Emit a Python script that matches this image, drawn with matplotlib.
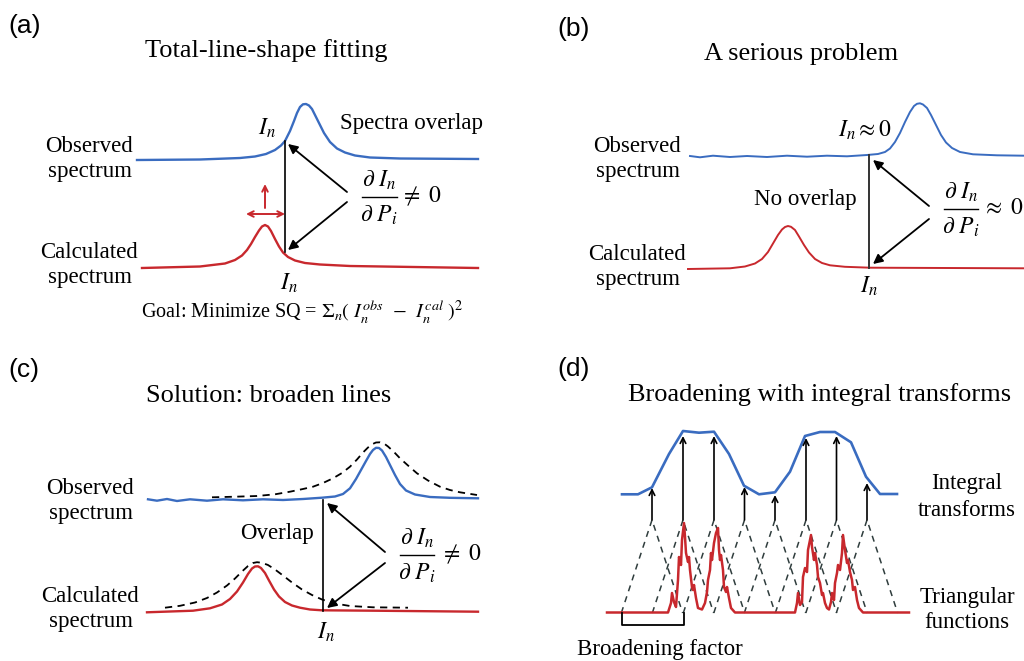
"""
Schematic: total-line-shape fitting and broadening with integral transforms.
Four panels drawn on one pixel-coordinate canvas (1024 x 661).
"""

import matplotlib
matplotlib.use("Agg")
import matplotlib.pyplot as plt

plt.rcParams["mathtext.fontset"] = "stix"
SERIF = ["Liberation Serif", "DejaVu Serif"]
SANS = ["Liberation Sans", "DejaVu Sans"]
BLUE, RED, DASH = "#3a6cc0", "#c8282d", "#2f3d3d"

# ---- panel (a): curves (pixel coords)
a_obs_x = [137, 200, 240, 255, 266, 275, 281, 285, 290, 294, 297, 300, 303, 306, 309, 312,
           315, 319, 324, 330, 337, 345, 355, 370, 400, 478]
a_obs_y = [160, 159.5, 158, 156.5, 154, 150, 145.5, 141, 131, 121, 113, 107, 104.3, 104, 105.5,
           109, 115, 123, 133, 142, 148.5, 152.5, 155.5, 157.5, 158.5, 159]
a_calc_x = [142, 200, 225, 235, 242, 247, 251, 255, 259, 262, 265, 268, 271, 275, 279, 283,
            288, 295, 305, 320, 350, 478]
a_calc_y = [268, 266.5, 263.5, 260, 255.5, 250, 244, 237, 230.5, 226.5, 225, 226.5, 231, 239,
            246.5, 252.5, 257, 260.5, 263, 264.5, 266, 268]

# ---- panel (b)
b_obs_x = [690, 700, 713, 730, 747, 767, 787, 807, 827, 847, 867, 878, 885, 890, 895, 900,
           905, 910, 914, 917, 920, 923, 927, 931, 936, 941, 946, 952, 960, 973, 997, 1024]
b_obs_y = [156, 157.3, 155.7, 157, 156, 157, 155.7, 156.7, 155.7, 156.3, 155, 154, 152, 148.5,
           142, 133, 122, 112, 106, 103.8, 103.3, 104.5, 108, 115, 125, 135, 142.5, 148, 152,
           154.3, 155.3, 155.7]
b_calc_x = [688, 730, 745, 755, 762, 768, 773, 778, 782, 785, 788, 791, 795, 799, 804, 809,
            815, 822, 830, 845, 870, 1024]
b_calc_y = [269, 268.3, 266.5, 263.5, 259, 252, 243.5, 235, 229.5, 227, 226, 226.8, 230,
            236.5, 245, 252.5, 259, 263, 265.3, 266.8, 267.7, 268.3]

# ---- panel (c)
c_obs_x = [148, 157, 167, 177, 190, 207, 223, 243, 263, 283, 303, 322, 335, 343, 350, 356,
           361, 366, 370, 373, 376, 379, 382, 386, 390, 395, 400, 406, 415, 430, 450, 478]
c_obs_y = [499.3, 500.7, 499, 501, 499.3, 500.7, 499.3, 500.3, 499.3, 500, 499, 497.7, 496.5,
           494, 488.3, 479, 470, 461, 454, 450, 447.8, 448, 450.5, 457, 465, 475, 484, 490.5,
           494.5, 497, 497.8, 498.3]
c_obs_broad_x = [212, 235, 257, 275, 290, 303, 313, 323, 333, 342, 350, 357, 363, 368, 372,
                 376, 380, 384, 388, 394, 400, 408, 417, 428, 440, 450, 460, 477]
c_obs_broad_y = [497.3, 496.7, 496, 494.3, 491.7, 489, 486.7, 483, 478.3, 473, 466.7, 459.5,
                 452.5, 447.5, 444.3, 442.5, 442.3, 443.5, 446.5, 452, 458.3, 465.5, 473.3,
                 480.5, 486.7, 490, 492.3, 495]
c_calc_x = [147, 193, 210, 222, 230, 237, 243, 248, 252, 255, 258, 261, 265, 269, 274, 279,
            285, 292, 300, 310, 322, 373, 478]
c_calc_y = [612.3, 610.7, 608.3, 604.5, 599, 591.5, 582.5, 574, 568.5, 566.5, 566.3, 568, 573,
            580.5, 589.5, 596.5, 602, 605.5, 607.7, 609.5, 610.3, 610.7, 611.7]
c_calc_broad_x = [165, 180, 195, 207, 217, 227, 235, 242, 248, 253, 257, 262, 268, 275, 283,
                  292, 302, 312, 322, 335, 350, 373, 408]
c_calc_broad_y = [607.7, 605.8, 602.5, 598, 592.5, 585.5, 578.5, 571.5, 566, 563, 562.2, 562.8,
                  565, 569.5, 575.5, 582.5, 589.5, 595, 599.5, 603.5, 606, 607.3, 607.7]

# ---- panel (d)
d_int_x = [622, 638, 652, 669, 683, 699, 714, 729, 744, 759, 775, 790, 805, 820, 835, 851,
           866, 880, 897]
d_int_y = [494.3, 494.3, 487.3, 454, 431, 432.7, 431.7, 454, 485.7, 494.3, 492.3, 471.7, 436,
           432, 432, 442.3, 476.7, 494, 494]
d_spec_x = [607, 668, 671, 672, 674, 676, 678, 679, 681, 682, 684, 685, 686, 688, 689, 690,
            692, 693, 694, 696, 698, 702, 705, 707, 708, 710, 711, 712, 714, 716, 718, 719,
            720, 721, 723, 724, 726, 727, 729, 731, 735,
            795, 797, 798, 800, 802, 803, 805, 807, 808, 811, 812, 814, 815, 817, 818, 820,
            822, 823, 825, 827, 829, 831, 832, 834, 835, 837, 838, 840, 842, 843, 845, 847,
            848, 850, 852, 853, 855, 857, 859, 863, 909]
d_spec_y = [612.5, 612.5, 603, 593, 602, 607, 580, 557, 565, 540, 523, 537, 553, 562, 557,
            570, 587, 590, 585, 598, 608, 609.5, 603, 592, 580, 570, 553, 560, 543, 533, 528,
            550, 560, 555, 570, 587, 592, 587, 598, 608, 612.5,
            612.5, 603, 593, 605, 602, 577, 568, 572, 550, 535, 547, 560, 553, 565, 577, 583,
            595, 593, 603, 608, 609.5, 602, 593, 600, 583, 573, 565, 570, 553, 535, 550, 563,
            560, 572, 580, 590, 587, 600, 608, 612.5, 612.5]
d_tri_x = [652, 683, 714, 744.5, 775, 806, 836.5, 867]
d_arrow_top = [488, 436, 436, 487, 495, 438, 436, 483]
TRI_HALF, TRI_TOP, TRI_BASE = 30.7, 520, 613

fig = plt.figure(figsize=(10.24, 6.61), dpi=100)
ax = fig.add_axes([0, 0, 1, 1])
ax.set_xlim(0, 1024); ax.set_ylim(661, 0); ax.axis("off")

BODY, TITLE, MATH, TAG = 16.5, 19, 17, 19


def txt(x, y, s, size=BODY, fam=SERIF, ha="center", **kw):
    ax.text(x, y, s, fontsize=size, family=fam, ha=ha, va="center", **kw)


def arrow(tail, head, color="black", style="-|>", lw=1.3, ms=14):
    ax.annotate("", xy=head, xytext=tail,
                arrowprops=dict(arrowstyle=style, color=color, lw=lw, mutation_scale=ms,
                                shrinkA=0, shrinkB=0))


def curve(xs, ys, color, lw=1.7, **kw):
    ax.plot(xs, ys, color=color, lw=lw, solid_joinstyle="round", **kw)


def labels(cx, y_obs, y_calc):
    txt(cx, y_obs, "Observed"); txt(cx + 1, y_obs + 25, "spectrum")
    txt(cx, y_calc, "Calculated"); txt(cx + 1, y_calc + 25, "spectrum")


def fraction(cx, y_line, half, right, rx):
    txt(cx, y_line - 17, r"$\partial\ I_n$", size=MATH)
    ax.plot([cx - half, cx + half], [y_line, y_line], color="black", lw=1.0)
    txt(cx, y_line + 18, r"$\partial\ P_i$", size=MATH)
    txt(rx, y_line - 1, right, size=MATH)


# (a)
txt(25, 26, "(a)", size=TAG, fam=SANS)
txt(266, 51, "Total-line-shape fitting", size=TITLE)
labels(89, 147, 253)
curve(a_obs_x, a_obs_y, BLUE)
curve(a_calc_x, a_calc_y, RED)
ax.plot([285, 285], [141, 252], color="black", lw=1.2)
arrow((347, 192), (288, 144)); arrow((347, 202), (288, 250))
arrow((265, 208), (265, 184), color=RED, style="->", lw=1.4, ms=10)
arrow((246, 214), (285, 214), color=RED, style="<->", lw=1.4, ms=10)
txt(340, 123, "Spectra overlap", ha="left")
txt(267, 128, r"$I_n$", size=MATH); txt(289, 283, r"$I_n$", size=MATH)
fraction(379, 197, 17.5, r"$\neq\ 0$", 421)
txt(302, 312, r"Goal: Minimize SQ = $\Sigma_n(\ I_n^{obs}\ \ \mathrm{-}\ \ I_n^{cal}\ )^2$", size=14.5)

# (b)
txt(574, 29, "(b)", size=TAG, fam=SANS)
txt(801, 54, "A serious problem", size=TITLE)
labels(637, 146, 254)
curve(b_obs_x, b_obs_y, BLUE, lw=1.4)
curve(b_calc_x, b_calc_y, RED, lw=1.4)
ax.plot([869, 869], [155, 268], color="#333333", lw=1.4)
arrow((929, 206), (873, 160)); arrow((929, 219), (873, 264))
txt(865, 130, r"$I_n \approx 0$", size=MATH)
txt(805, 200, "No overlap")
txt(869, 286, r"$I_n$", size=MATH)
fraction(961, 209, 17, r"$\approx\ 0$", 1003)

# (c)
txt(24, 370, "(c)", size=TAG, fam=SANS)
txt(269, 396, "Solution: broaden lines", size=TITLE)
labels(90, 489, 596)
curve(c_obs_broad_x, c_obs_broad_y, "black", lw=1.3, dashes=(4, 3))
curve(c_calc_broad_x, c_calc_broad_y, "black", lw=1.3, dashes=(4, 3))
curve(c_obs_x, c_obs_y, BLUE)
curve(c_calc_x, c_calc_y, RED)
ax.plot([322.5, 322.5], [500, 611], color="black", lw=1.2)
arrow((385, 552), (327, 503)); arrow((385, 563), (327, 608))
txt(277, 533, "Overlap")
txt(326, 632, r"$I_n$", size=MATH)
fraction(417, 555, 17, r"$\neq\ 0$", 461)

# (d)
txt(574, 369, "(d)", size=TAG, fam=SANS)
txt(820, 395, "Broadening with integral transforms", size=TITLE)
for xc in d_tri_x:
    ax.plot([xc - TRI_HALF, xc, xc + TRI_HALF], [TRI_BASE, TRI_TOP, TRI_BASE],
            color=DASH, lw=1.1, dashes=(4, 3.5))
curve(d_spec_x, d_spec_y, RED, lw=1.8)
curve(d_int_x, d_int_y, BLUE, lw=1.9)
for xc, top in zip(d_tri_x, d_arrow_top):
    arrow((xc, TRI_TOP), (xc, top), style="->", lw=1.2, ms=10)
ax.plot([621.7, 621.7, 684.3, 684.3], [613, 625, 625, 613], color="black", lw=1.3)
txt(660, 650, "Broadening factor")
txt(967, 484, "Integral"); txt(967, 510, "transforms")
txt(967, 597, "Triangular"); txt(967, 622, "functions")

fig.savefig("out.png", dpi=100)
